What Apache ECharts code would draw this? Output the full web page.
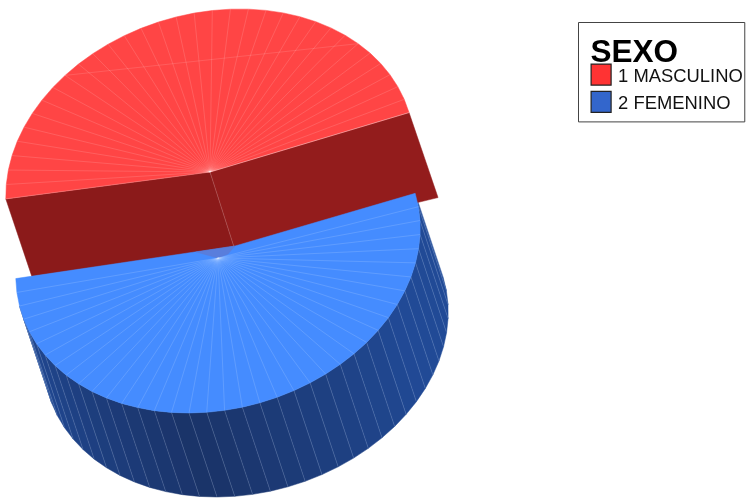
<!DOCTYPE html>
<html>
<head>
<meta charset="utf-8">
<style>html,body{margin:0;padding:0;background:#fff}#chart{width:747px;height:500px}</style>
<script src="https://cdn.jsdelivr.net/npm/echarts@6/dist/echarts.min.js"></script>
</head>
<body>
<div id="chart"></div>
<script>
// Percentage shares per category
const categories = ['1 MASCULINO', '2 FEMENINO'];
const shares = [46.7, 53.3];
const legendTitle = 'SEXO';

// Oblique projection of the exploded 3D pie, in canvas pixels
const START_ANGLE = -99.5;
const FACET_DEGREES = 5.07;
const DEG = Math.PI / 180;
const redDisc = { cx: 210, cy: 172, ax: 202, bx: 30, by: -163 };
const blueDisc = { cx: 218, cy: 252, ax: 200, bx: 30, by: -161 };
const blueDepth = [28, 84];
const redDepthStart = [26, 77.5];
const redDepthHub = [24, 75];
const redDepthEnd = [29, 85];
const blueRimHub = [235, 246];
const blueSpokeHub = [218, 258];

const total = shares.reduce((a, b) => a + b, 0);
const redSweep = shares[0] / total * 360;
const blueSweep = shares[1] / total * 360;
const redEnd = START_ANGLE + redSweep;
const blueEnd = redEnd + blueSweep;

function rimPoint(d, angle) {
  const c = Math.cos(angle * DEG), s = Math.sin(angle * DEG);
  return [d.cx + d.bx * c + d.ax * s, d.cy + d.by * c];
}
function facetAngles(from, to) {
  const n = Math.round((to - from) / FACET_DEGREES);
  const out = [];
  for (let i = 0; i <= n; i++) out.push(from + (to - from) * i / n);
  return out;
}
function shift(p, v) { return [p[0] + v[0], p[1] + v[1]]; }
function line(a, b, stroke, width) {
  return { type: 'line', shape: { x1: a[0], y1: a[1], x2: b[0], y2: b[1] },
           style: { stroke, lineWidth: width || 0.5 }, silent: true };
}
function poly(points, fill, stroke) {
  return { type: 'polygon', shape: { points },
           style: { fill, stroke: stroke || fill, lineWidth: 0.5 }, silent: true };
}
function mix(a, b, t) {
  const v = a.map((x, i) => Math.round(x + (b[i] - x) * t));
  return 'rgb(' + v.join(',') + ')';
}

// Outer wall of the blue wedge, shaded by how far each facet turns from the viewer
function renderBlueWall() {
  const angles = facetAngles(redEnd, blueEnd);
  const children = [];
  const dark = [26, 51, 104], light = [33, 74, 150];
  for (let i = angles.length - 2; i >= 0; i--) {
    const mid = (angles[i] + angles[i + 1]) / 2;
    if (mid > 252) continue;
    const p = rimPoint(blueDisc, angles[i]), q = rimPoint(blueDisc, angles[i + 1]);
    const t = Math.min(1, Math.abs(mid - 180) / 70);
    children.push(poly([p, q, shift(q, blueDepth), shift(p, blueDepth)], mix(dark, light, t)));
  }
  for (let i = 0; i < angles.length; i++) {
    if (angles[i] > 252) continue;
    const p = rimPoint(blueDisc, angles[i]);
    children.push(line(p, shift(p, blueDepth), 'rgba(210,225,255,0.34)'));
  }
  return { type: 'group', children };
}

// Red wedge: two cut faces and the fan of its top surface
function renderRed() {
  const angles = facetAngles(START_ANGLE, redEnd);
  const rim = angles.map(a => rimPoint(redDisc, a));
  const hub = [redDisc.cx, redDisc.cy];
  const first = rim[0], last = rim[rim.length - 1];
  const children = [
    poly([first, hub, shift(hub, redDepthHub), shift(first, redDepthStart)], '#8b1a1a'),
    poly([hub, last, shift(last, redDepthEnd), shift(hub, redDepthHub)], '#931c1c'),
    poly(rim.concat([hub]), '#ff4545')
  ];
  rim.slice(1, -1).forEach(p => children.push(line(p, hub, 'rgba(255,255,255,0.28)')));
  children.push(line(rim[9], rim[27], 'rgba(255,255,255,0.25)'));
  children.push(line(first, hub, 'rgba(255,255,255,0.4)'));
  children.push(line(hub, last, 'rgba(255,255,255,0.75)'));
  children.push(line(hub, shift(hub, redDepthHub), 'rgba(255,255,255,0.35)'));
  return { type: 'group', children };
}

// Blue wedge: top surface laid over the lower edge of the red cut faces
function renderBlueTop() {
  const angles = facetAngles(redEnd, blueEnd);
  const rim = angles.map(a => rimPoint(blueDisc, a));
  const children = [
    poly(rim.concat([blueRimHub]), '#458cff'),
    poly([[196, 252], blueRimHub, [228, 254], blueSpokeHub], 'rgba(98,120,205,0.7)')
  ];
  rim.slice(1, -1).forEach(p => children.push(line(p, blueSpokeHub, 'rgba(215,232,255,0.36)')));
  return { type: 'group', children };
}

const wedgeSeries = (name, value, renderItem) => ({
  type: 'custom', name, coordinateSystem: 'none', silent: true,
  data: [value], renderItem, animation: false
});

const chart = echarts.init(document.getElementById('chart'), null, { renderer: 'canvas' });
chart.setOption({
  animation: false,
  backgroundColor: '#ffffff',
  title: {
    text: legendTitle, left: 590.5, top: 37, padding: 0,
    textStyle: { fontFamily: 'Liberation Sans', fontWeight: 'bold', fontSize: 31.5, color: '#000' }
  },
  legend: {
    left: 578.5, top: 22.5, orient: 'vertical', padding: [41, 2, 9, 12],
    itemWidth: 20, itemHeight: 21, itemGap: 5, icon: 'rect',
    borderColor: '#444', borderWidth: 1, backgroundColor: '#fff',
    selectedMode: false, z: 1,
    formatter: '{label|{name}}',
    textStyle: {
      padding: [0, 0, 0, 2],
      rich: { label: { fontFamily: 'Liberation Sans', fontSize: 18.4, color: '#111', padding: [4, 0, 0, 0] } }
    },
    data: [
      { name: categories[0], itemStyle: { color: '#ff3333', borderColor: '#222', borderWidth: 1.2 } },
      { name: categories[1], itemStyle: { color: '#3366cc', borderColor: '#222', borderWidth: 1.2 } }
    ]
  },
  series: [
    wedgeSeries(categories[1], shares[1], renderBlueWall),
    wedgeSeries(categories[0], shares[0], renderRed),
    wedgeSeries(categories[1], shares[1], renderBlueTop)
  ]
});
</script>
</body>
</html>
